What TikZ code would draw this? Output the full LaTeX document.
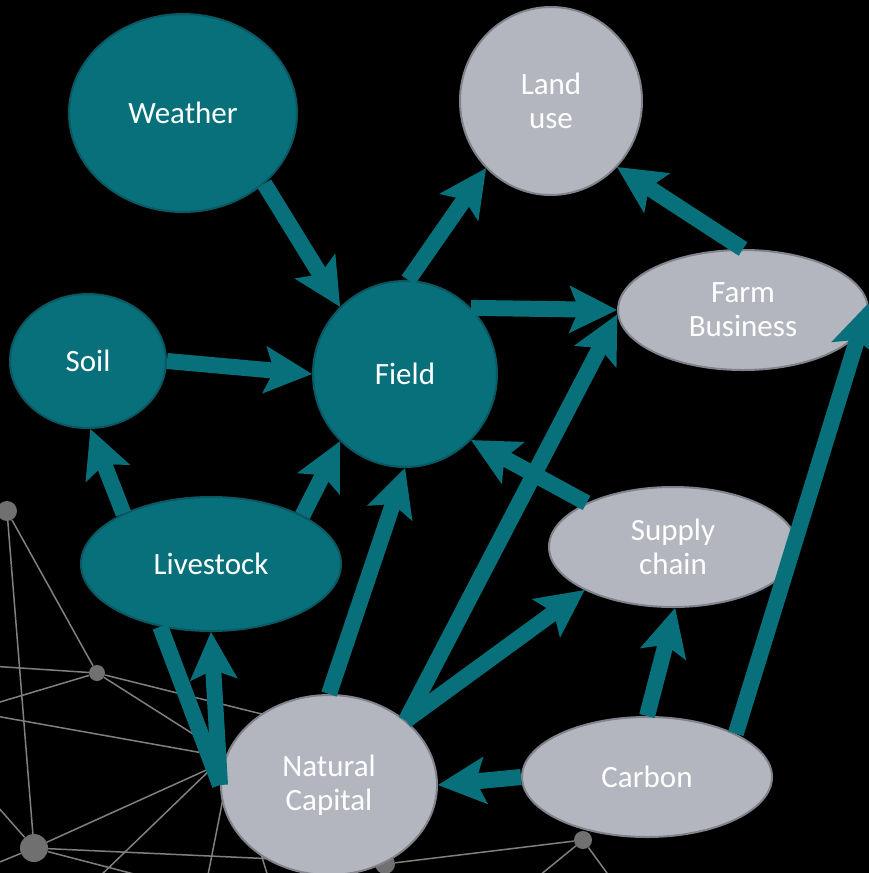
\documentclass[tikz,border=0pt]{standalone}
\usepackage{fontspec}
\setmainfont{Carlito}
\usetikzlibrary{arrows.meta,shapes.geometric}
\definecolor{tealfill}{RGB}{8,112,123}
\definecolor{tealedge}{RGB}{10,88,98}
\definecolor{grayfill}{RGB}{179,181,191}
\definecolor{grayedge}{RGB}{128,130,140}
\definecolor{netgray}{RGB}{128,128,128}
\definecolor{dotgray}{RGB}{112,112,112}
\begin{document}
\begin{tikzpicture}[x=1pt,y=-1pt,
  nd/.style={ellipse, inner sep=0pt, line width=2pt, text=white, align=center,
    font=\fontsize{31}{34}\selectfont},
  tealnode/.style={nd, fill=tealfill, draw=tealedge},
  graynode/.style={nd, fill=grayfill, draw=grayedge},
  flow/.style={draw=tealfill, line width=16pt,
    -{Stealth[length=48pt,width=48pt,inset=10pt,line width=0pt]}},
  plainflow/.style={draw=tealfill, line width=16pt},
  net/.style={draw=netgray, line width=1.5pt},
  dot/.style={circle, fill=dotgray, inner sep=0pt}
]
\useasboundingbox (0,0) rectangle (869,873);
\fill[black] (0,0) rectangle (869,873);

% background network
\coordinate (h1) at (213,767);
\coordinate (h2) at (231,758);
\coordinate (p1) at (330,731);
\coordinate (e1) at (-10,666);
\coordinate (e2) at (-10,705);
\coordinate (e3) at (-10,798);
\coordinate (e4) at (-10,866);
\coordinate (e5) at (96,880);
\coordinate (e6) at (157,880);
\coordinate (e7) at (207,880);
\coordinate (e8) at (270,883);
\coordinate (e9) at (534,880);
\coordinate (e10) at (612,880);
\coordinate (e11) at (-10,715);
\node[dot,minimum size=20pt] (nA) at (7,511) {};
\node[dot,minimum size=16pt] (nB) at (97,673) {};
\node[dot,minimum size=28pt] (nC) at (34,848) {};
\node[dot,minimum size=20pt] (nD) at (385,864) {};
\node[dot,minimum size=18pt] (nE) at (583,840) {};
\draw[net] (nA) -- (nC);
\draw[net] (nA) -- (nB);
\draw[net] (e1) -- (nB);
\draw[net] (e2) -- (nB);
\draw[net] (nB) -- (p1);
\draw[net] (nB) -- (h2);
\draw[net] (e11) -- (h2);
\draw[net] (h2) -- (e7);
\draw[net] (h2) -- (e8);
\draw[net] (h1) -- (nC);
\draw[net] (h1) -- (e5);
\draw[net] (e3) -- (nC);
\draw[net] (e4) -- (nC);
\draw[net] (nC) -- (nD);
\draw[net] (nC) -- (e6);
\draw[net] (nD) -- (nE);
\draw[net] (nE) -- (e9);
\draw[net] (nE) -- (e10);

% nodes
\node[tealnode, minimum width=228pt, minimum height=198pt] (W) at (183,113) {Weather};
\node[graynode, minimum width=182pt, minimum height=188pt] (LU) at (551,101) {Land\\use};
\node[tealnode, minimum width=184pt, minimum height=186pt] (F) at (405,374) {Field};
\node[tealnode, minimum width=156pt, minimum height=134pt] (S) at (88,361) {Soil};
\node[graynode, minimum width=250pt, minimum height=120pt] (FB) at (743,310) {Farm\\Business};
\node[tealnode, minimum width=260pt, minimum height=134pt] (L) at (211,564) {Livestock};
\node[graynode, minimum width=248pt, minimum height=120pt] (SC) at (673,547) {Supply\\chain};
\node[graynode, minimum width=216pt, minimum height=180pt] (NC) at (329,785) {Natural\\Capital};
\node[graynode, minimum width=250pt, minimum height=120pt] (C) at (647,777) {Carbon};

% connectors
\draw[flow] (W.-41) -- (F.134);
\draw[flow] (F.88) -- (LU.-134);
\draw[flow] (F.45) -- (FB.180);
\draw[flow] (S.east) -- (F.west);
\draw[flow] (L.150) -- (S.-88);
\draw[flow] (L.28) -- (F.-134);
\draw[flow] (NC.90) -- (F.-90);
\draw[plainflow] (L.-129) -- (NC.180);
\draw[flow] (NC.180) -- (L.-90);
\draw[flow] (NC.40) -- (FB.182);
\draw[flow] (NC.40) -- (SC.-154);
\draw[flow] (SC.153) -- (F.-45);
\draw[flow] (C.90) -- (SC.-88);
\draw[flow] (C.180) -- (NC.0);
\draw[flow] (C.26) -- (FB.3);
\draw[flow] (FB.90) -- (LU.-45);
\end{tikzpicture}
\end{document}
